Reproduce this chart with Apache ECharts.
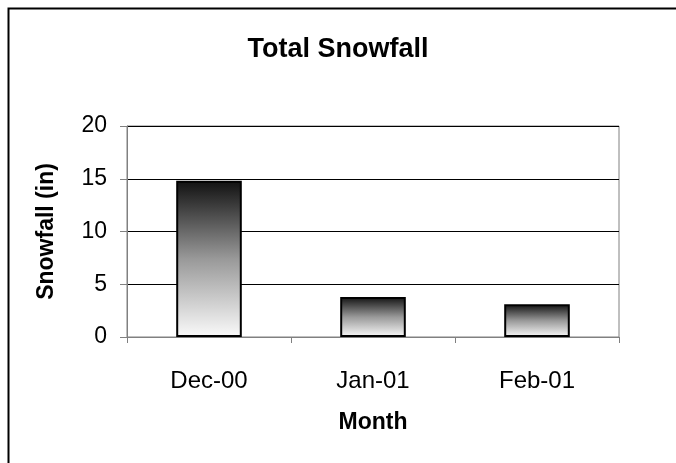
<!DOCTYPE html>
<html>
<head>
<meta charset="utf-8">
<script src="https://cdn.jsdelivr.net/npm/echarts@6/dist/echarts.min.js"></script>
<style>html,body{margin:0;padding:0;background:#fff}#c{width:676px;height:463px}</style>
</head>
<body>
<div id="c"></div>
<script>
const categories = ['Dec-00', 'Jan-01', 'Feb-01'];
const snowfall = [14.8, 3.8, 3.1];
const yTicks = [0, 5, 10, 15, 20];

const chart = echarts.init(document.getElementById('c'), null, {renderer: 'canvas'});
const font = '"Liberation Sans", Arial, sans-serif';
chart.setOption({
  animation: false,
  backgroundColor: '#fff',
  graphic: [{
    type: 'rect', left: 6, top: 6, z: 100,
    shape: {width: 800, height: 600},
    style: {fill: 'none', stroke: '#000', lineWidth: 2}
  }],
  title: {
    text: 'Total Snowfall', left: 'center', top: 31,
    textStyle: {fontFamily: font, fontSize: 27, fontWeight: 'bold', color: '#000'}
  },
  grid: {left: 127, right: 57, top: 126, bottom: 126, show: true, borderColor: '#808080', borderWidth: 1, containLabel: false},
  xAxis: {
    type: 'category', data: categories,
    name: 'Month', nameLocation: 'middle', nameGap: 74,
    nameTextStyle: {fontFamily: font, fontSize: 23, fontWeight: 'bold', color: '#000'},
    axisLine: {lineStyle: {color: '#808080', width: 1}},
    axisTick: {show: true, length: 6, lineStyle: {color: '#808080'}},
    axisLabel: {fontFamily: font, fontSize: 24, color: '#000', margin: 32},
    splitLine: {show: false}
  },
  yAxis: {
    type: 'value', min: 0, max: 20, interval: 5,
    name: 'Snowfall (in)', nameLocation: 'middle', nameGap: 69,
    nameTextStyle: {fontFamily: font, fontSize: 23, fontWeight: 'bold', color: '#000'},
    axisLine: {show: true, lineStyle: {color: '#808080', width: 1}},
    axisTick: {show: true, length: 7, lineStyle: {color: '#808080'}},
    axisLabel: {fontFamily: font, fontSize: 23, color: '#000', margin: 20,
      formatter: v => yTicks.includes(v) ? String(v) : ''},
    splitLine: {show: true, lineStyle: {color: '#000', width: 1}}
  },
  series: [{
    type: 'bar', data: snowfall, barWidth: '40%',
    itemStyle: {
      borderColor: '#000', borderWidth: 2,
      color: new echarts.graphic.LinearGradient(0, 0, 0, 1, [
        {offset: 0, color: '#111'},
        {offset: 0.5, color: '#999'},
        {offset: 1, color: '#fafafa'}
      ], false)
    }
  }]
});
</script>
</body>
</html>
